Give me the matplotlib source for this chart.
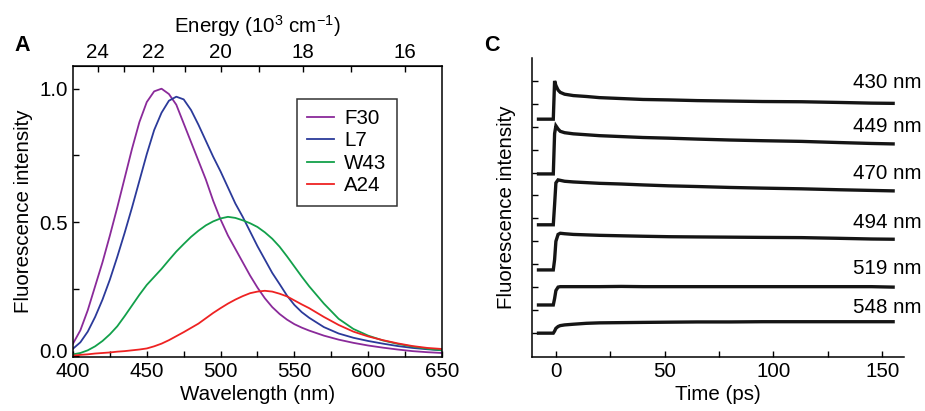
"""Steady-state spectra (A) and time-resolved fluorescence traces (C)."""

import matplotlib
matplotlib.use("Agg")
import matplotlib.pyplot as plt
import matplotlib.transforms as mtransforms
from matplotlib.ticker import MultipleLocator, NullFormatter

plt.rcParams["font.family"] = ["Liberation Sans", "DejaVu Sans"]
plt.rcParams["mathtext.fontset"] = "custom"
plt.rcParams["mathtext.rm"] = "Liberation Sans"
plt.rcParams["mathtext.it"] = "Liberation Sans:italic"
plt.rcParams["font.size"] = 14.8

# Panel A: emission spectra (wavelength in nm, normalised intensity)
wavelength = [400, 405, 410, 415, 420, 425, 430, 435, 440, 445, 450, 455, 460, 465,
              470, 475, 480, 485, 490, 495, 500, 505, 510, 515, 520, 525, 530, 535,
              540, 545, 550, 555, 560, 570, 580, 590, 600, 610, 620, 630, 640, 650]
f30 = [0.045, 0.095, 0.17, 0.26, 0.35, 0.45, 0.555, 0.665, 0.775, 0.875, 0.95, 0.99, 1.00,
       0.98, 0.94, 0.87, 0.80, 0.73, 0.66, 0.58, 0.51, 0.45, 0.40, 0.35, 0.30, 0.255, 0.215,
       0.182, 0.156, 0.135, 0.118, 0.105, 0.094, 0.075, 0.06, 0.048, 0.038, 0.03, 0.023,
       0.017, 0.013, 0.01]
l7 = [0.026, 0.05, 0.09, 0.145, 0.21, 0.285, 0.37, 0.46, 0.555, 0.655, 0.755, 0.845, 0.91,
      0.955, 0.97, 0.96, 0.92, 0.865, 0.805, 0.745, 0.69, 0.63, 0.57, 0.52, 0.465, 0.41,
      0.36, 0.31, 0.268, 0.225, 0.19, 0.163, 0.142, 0.107, 0.083, 0.067, 0.055, 0.045, 0.036,
      0.029, 0.024, 0.02]
w43 = [0.005, 0.01, 0.02, 0.035, 0.055, 0.08, 0.11, 0.148, 0.188, 0.228, 0.265, 0.295, 0.325,
       0.358, 0.39, 0.418, 0.445, 0.468, 0.488, 0.503, 0.514, 0.52, 0.516, 0.507, 0.496,
       0.482, 0.462, 0.438, 0.408, 0.372, 0.334, 0.296, 0.26, 0.195, 0.138, 0.1, 0.075,
       0.057, 0.044, 0.034, 0.026, 0.02]
a24 = [0.0, 0.003, 0.005, 0.008, 0.01, 0.012, 0.015, 0.017, 0.02, 0.023, 0.027, 0.035, 0.045,
       0.058, 0.073, 0.088, 0.104, 0.12, 0.14, 0.16, 0.178, 0.195, 0.21, 0.223, 0.234, 0.24,
       0.243, 0.24, 0.232, 0.222, 0.207, 0.192, 0.178, 0.145, 0.115, 0.09, 0.072, 0.058,
       0.046, 0.036, 0.029, 0.025]
spectra_labels = ["F30", "L7", "W43", "A24"]
spectra_colors = ["#8a2a9a", "#2b3a9a", "#12a04a", "#ee2222"]

# Panel C: kinetic traces (time in ps, stacked intensity offsets in tick units)
time_ps = [-8, -1.2, -0.6, 0, 1, 2, 4, 8, 14, 20, 30, 40, 52, 65, 80, 95, 113, 130, 145, 155]
trace_430 = [10.33, 10.33, 12.0, 11.8, 11.6, 11.5, 11.42, 11.36, 11.32, 11.27, 11.23, 11.19,
             11.17, 11.14, 11.12, 11.1, 11.09, 11.06, 11.03, 11.02]
trace_449 = [7.94, 7.94, 9.7, 10.04, 9.9, 9.8, 9.74, 9.69, 9.65, 9.61, 9.57, 9.53, 9.5, 9.46,
             9.42, 9.39, 9.36, 9.31, 9.27, 9.25]
trace_470 = [5.72, 5.72, 6.6, 7.55, 7.68, 7.66, 7.62, 7.59, 7.56, 7.53, 7.5, 7.46, 7.42, 7.39,
             7.35, 7.32, 7.29, 7.25, 7.22, 7.2]
trace_494 = [3.75, 3.75, 4.2, 5.0, 5.3, 5.35, 5.33, 5.3, 5.28, 5.26, 5.24, 5.22, 5.2, 5.19,
             5.18, 5.17, 5.16, 5.13, 5.1, 5.09]
trace_519 = [2.22, 2.22, 2.5, 2.85, 3.0, 3.02, 3.02, 3.02, 3.02, 3.02, 3.03, 3.02, 3.02, 3.02,
             3.02, 3.02, 3.02, 3.02, 3.02, 3.0]
trace_548 = [0.99, 0.99, 1.08, 1.2, 1.28, 1.32, 1.35, 1.38, 1.42, 1.44, 1.45, 1.46, 1.47, 1.48,
             1.48, 1.49, 1.49, 1.49, 1.49, 1.49]
trace_labels = ["430 nm", "449 nm", "470 nm", "494 nm", "519 nm", "548 nm"]
label_levels = [11.95, 10.0, 7.95, 5.82, 3.82, 2.12]


def style_ticks(ax):
    ax.tick_params(which="both", direction="in", length=4, width=1)
    for spine in ax.spines.values():
        spine.set_linewidth(1.1)


def draw_spectra(fig, ax):
    for values, name, color in zip([f30, l7, w43, a24], spectra_labels, spectra_colors):
        ax.plot(wavelength, values, color=color, lw=1.3, label=name)

    ax.set_xlim(400, 650)
    ax.set_ylim(-0.005, 1.085)
    ax.xaxis.set_major_locator(MultipleLocator(50))
    ax.xaxis.set_minor_locator(MultipleLocator(25))
    ax.set_yticks([0.0, 0.5, 1.0])
    ax.yaxis.set_minor_locator(MultipleLocator(0.25))
    ax.set_xlabel("Wavelength (nm)", labelpad=3)
    ax.set_ylabel("Fluorescence intensity", labelpad=5)
    style_ticks(ax)
    ax.tick_params(axis="y", which="both", right=False)

    # The "0.0" label sits a little above its tick so it clears "400"
    zero_label = ax.get_yticklabels()[0]
    zero_label.set_transform(zero_label.get_transform()
                             + mtransforms.ScaledTranslation(0, 4 / 72, fig.dpi_scale_trans))

    # Energy scale on top (10^3 cm^-1)
    top = ax.secondary_xaxis("top", functions=(lambda x: 1e4 / x, lambda e: 1e4 / e))
    top.set_xticks([16, 18, 20, 22, 24])
    top.set_xticks([17, 19, 21, 23], minor=True)
    top.xaxis.set_minor_formatter(NullFormatter())
    top.tick_params(which="both", direction="in", length=4, width=1, pad=3)
    top.set_xlabel("Energy (10$^3$ cm$^{-1}$)", labelpad=7)

    leg = ax.legend(loc="upper left", bbox_to_anchor=(0.607, 0.888), borderaxespad=0,
                    frameon=True, fancybox=False, edgecolor="black", handlelength=1.3,
                    handletextpad=0.5, labelspacing=0.17, borderpad=0.5)
    leg.get_frame().set_linewidth(1.1)


def draw_traces(ax):
    traces = [trace_430, trace_449, trace_470, trace_494, trace_519, trace_548]
    for values in traces:
        ax.plot(time_ps, values, color="#151515", lw=2.4, solid_joinstyle="miter")
    for text, level in zip(trace_labels, label_levels):
        ax.text(168, level, text, ha="right", va="center", clip_on=False)

    ax.set_xlim(-11, 160)
    ax.set_ylim(-0.05, 13.0)
    ax.set_xticks([0, 50, 100, 150])
    ax.xaxis.set_minor_locator(MultipleLocator(25))
    ax.set_yticks(range(1, 13))
    ax.set_yticklabels([])
    ax.spines["top"].set_visible(False)
    ax.spines["right"].set_visible(False)
    ax.set_xlabel("Time (ps)", labelpad=3)
    ax.set_ylabel("Fluorescence intensity", labelpad=8)
    style_ticks(ax)


fig = plt.figure(figsize=(9.25, 4.11), dpi=100)
ax_a = fig.add_axes([0.0789, 0.1314, 0.3989, 0.708])
ax_c = fig.add_axes([0.5751, 0.1314, 0.4022, 0.7275])

draw_spectra(fig, ax_a)
draw_traces(ax_c)

fig.text(0.016, 0.89, "A", fontsize=15.5, fontweight="bold", va="center")
fig.text(0.523, 0.89, "C", fontsize=15.5, fontweight="bold", va="center")

fig.savefig("out.png", dpi=100)
